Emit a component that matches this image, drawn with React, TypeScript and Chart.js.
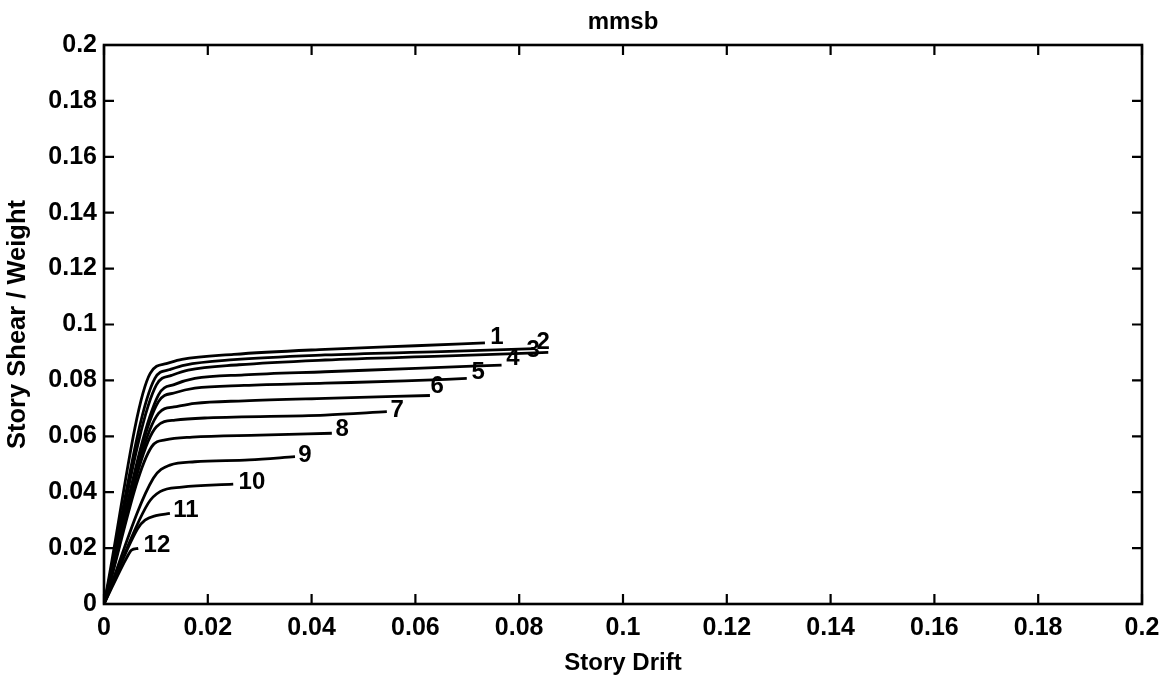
import React, { useEffect, useRef } from "react";
import { Chart, registerables } from "chart.js";

Chart.register(...registerables);

const chartTitle = "mmsb";
const xAxisTitle = "Story Drift";
const yAxisTitle = "Story Shear / Weight";

const storyLabels = ["1", "2", "3", "4", "5", "6", "7", "8", "9", "10", "11", "12"];

// drift values for each story curve
const storyDrift: number[][] = [
  [0, 0.0089, 0.012, 0.015, 0.025, 0.0426, 0.06, 0.0734],
  [0, 0.0098, 0.0125, 0.0156, 0.025, 0.0426, 0.065, 0.083],
  [0, 0.0101, 0.013, 0.0162, 0.026, 0.0426, 0.065, 0.0856],
  [0, 0.0105, 0.0135, 0.0175, 0.027, 0.0426, 0.06, 0.0766],
  [0, 0.0105, 0.0135, 0.0175, 0.027, 0.0426, 0.058, 0.0699],
  [0, 0.0105, 0.0135, 0.0175, 0.027, 0.0426, 0.0628],
  [0, 0.0101, 0.0137, 0.02, 0.0426, 0.0545],
  [0, 0.0092, 0.0118, 0.017, 0.03, 0.0439],
  [0, 0.0095, 0.0127, 0.0175, 0.028, 0.0368],
  [0, 0.0085, 0.0108, 0.015, 0.0249],
  [0, 0.0065, 0.0079, 0.01, 0.0127],
  [0, 0.0045, 0.0053, 0.0066],
];

// shear / weight values for each story curve
const storyShear: number[][] = [
  [0, 0.0825, 0.086, 0.0875, 0.0893, 0.0911, 0.0924, 0.0934],
  [0, 0.0807, 0.0838, 0.0855, 0.0874, 0.0891, 0.0903, 0.0914],
  [0, 0.0784, 0.0818, 0.0837, 0.0856, 0.0873, 0.0887, 0.09],
  [0, 0.0748, 0.0785, 0.0807, 0.082, 0.0831, 0.0843, 0.0855],
  [0, 0.0724, 0.0755, 0.0772, 0.0782, 0.079, 0.0798, 0.0807],
  [0, 0.0682, 0.0705, 0.0718, 0.0727, 0.0736, 0.0746],
  [0, 0.0634, 0.0658, 0.0666, 0.0676, 0.0688],
  [0, 0.0563, 0.0587, 0.0597, 0.0604, 0.0611],
  [0, 0.045, 0.0497, 0.0509, 0.0516, 0.0527],
  [0, 0.036, 0.0402, 0.0418, 0.0429],
  [0, 0.027, 0.03, 0.0316, 0.0324],
  [0, 0.017, 0.0193, 0.0199],
];

// label anchor positions (data units)
const labelDrift = [0.0757, 0.0846, 0.0827, 0.0788, 0.0721, 0.0642, 0.0565, 0.0459, 0.0387, 0.0285, 0.0158, 0.0102];
const labelShear = [0.0955, 0.0937, 0.0909, 0.088, 0.083, 0.078, 0.0694, 0.0623, 0.0533, 0.0436, 0.0336, 0.0211];

const xTickLabels = ["0", "0.02", "0.04", "0.06", "0.08", "0.1", "0.12", "0.14", "0.16", "0.18", "0.2"];
const yTickLabels = ["0", "0.02", "0.04", "0.06", "0.08", "0.1", "0.12", "0.14", "0.16", "0.18", "0.2"];

const FONT = "'Liberation Sans', Arial, Helvetica, sans-serif";

const boxPlugin = {
  id: "matlabBox",
  afterDraw(chart: any) {
    const { ctx, chartArea } = chart;
    const { left, right, top, bottom } = chartArea;
    ctx.save();
    ctx.strokeStyle = "#000";
    ctx.lineWidth = 2.6;
    ctx.strokeRect(left, top, right - left, bottom - top);
    const tl = 10;
    ctx.lineWidth = 2.2;
    ctx.beginPath();
    const xs = chart.scales.x;
    xs.ticks.forEach((t: any) => {
      const px = xs.getPixelForValue(t.value);
      ctx.moveTo(px, bottom);
      ctx.lineTo(px, bottom - tl);
      ctx.moveTo(px, top);
      ctx.lineTo(px, top + tl);
    });
    const ys = chart.scales.y;
    ys.ticks.forEach((t: any) => {
      const py = ys.getPixelForValue(t.value);
      ctx.moveTo(left, py);
      ctx.lineTo(left + tl, py);
      ctx.moveTo(right, py);
      ctx.lineTo(right - tl, py);
    });
    ctx.stroke();

    // curve labels
    ctx.fillStyle = "#000";
    ctx.font = `bold 24px ${FONT}`;
    ctx.textAlign = "center";
    ctx.textBaseline = "middle";
    storyLabels.forEach((lab, i) => {
      ctx.fillText(lab, xs.getPixelForValue(labelDrift[i]), ys.getPixelForValue(labelShear[i]));
    });
    ctx.restore();
  },
};

export default function App() {
  const canvasRef = useRef<HTMLCanvasElement | null>(null);

  useEffect(() => {
    if (!canvasRef.current) return;
    const datasets = storyLabels.map((lab, i) => ({
      label: lab,
      data: storyDrift[i].map((x, j) => ({ x, y: storyShear[i][j] })),
      borderColor: "#000",
      borderWidth: 2.8,
      pointRadius: 0,
      fill: false,
      cubicInterpolationMode: "monotone" as const,
    }));
    const chart = new Chart(canvasRef.current, {
      type: "line",
      data: { datasets },
      plugins: [boxPlugin],
      options: {
        responsive: false,
        animation: false,
        devicePixelRatio: 1,
        layout: { padding: { left: 0, right: 32, top: 0, bottom: 0 } },
        plugins: {
          legend: { display: false },
          tooltip: { enabled: false },
          title: {
            display: true,
            text: chartTitle,
            fullSize: false,
            color: "#000",
            font: { family: FONT, size: 24, weight: "bold", lineHeight: 1.2 },
            padding: { top: 8, bottom: 8.2 },
          },
        },
        scales: {
          x: {
            type: "linear",
            min: 0,
            max: 0.2,
            ticks: {
              stepSize: 0.02,
              color: "#000",
              padding: 9,
              maxRotation: 0,
              autoSkip: false,
              font: { family: FONT, size: 25, weight: "bold" },
              callback: (_v: any, i: number) => xTickLabels[i],
            },
            grid: { display: false, drawTicks: false },
            border: { display: false },
            title: {
              display: true,
              text: xAxisTitle,
              color: "#000",
              font: { family: FONT, size: 24, weight: "bold", lineHeight: 1.2 },
              padding: { top: 0, bottom: 4 },
            },
            afterFit: (s: any) => {
              s.height = 78;
            },
          },
          y: {
            type: "linear",
            min: 0,
            max: 0.2,
            ticks: {
              stepSize: 0.02,
              color: "#000",
              padding: 7,
              autoSkip: false,
              font: { family: FONT, size: 25, weight: "bold" },
              callback: (_v: any, i: number) => yTickLabels[i],
            },
            grid: { display: false, drawTicks: false },
            border: { display: false },
            title: {
              display: true,
              text: yAxisTitle,
              color: "#000",
              font: { family: FONT, size: 25.5, weight: "bold", lineHeight: 1.2 },
              padding: { top: 3, bottom: 0 },
            },
            afterFit: (s: any) => {
              s.width = 104;
            },
          },
        },
      },
    });
    return () => chart.destroy();
  }, []);

  return (
    <div style={{ position: "fixed", left: 0, top: 0, width: 1174, height: 682, background: "#fff" }}>
      <canvas ref={canvasRef} width={1174} height={682} style={{ display: "block" }} />
    </div>
  );
}
